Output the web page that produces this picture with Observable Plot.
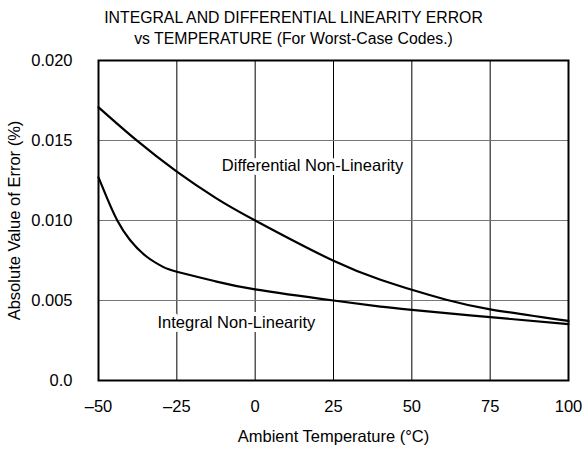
<!DOCTYPE html>
<html>
<head>
<meta charset="utf-8">
<script src="https://cdn.jsdelivr.net/npm/d3@7"></script>
<script src="https://cdn.jsdelivr.net/npm/@observablehq/plot@0.6"></script>
<style>
  body { margin: 0; background: white; font-family: "Liberation Sans", Arial, sans-serif; }
  #title { width: 587px; height: 48px; box-sizing: border-box; padding-top: 7px; text-align: center; font-size: 15.8px; line-height: 21px; color: #000; }
</style>
</head>
<body>
<div id="title">INTEGRAL AND DIFFERENTIAL LINEARITY ERROR<br>vs TEMPERATURE (For Worst-Case Codes.)</div>
<div id="chart"></div>
<script>
const dnlTemp = [-50, -38, -25, -12.5, 0, 25, 40, 50, 61, 75, 100];
const dnlErr  = [0.01708, 0.01504, 0.01306, 0.01140, 0.0100, 0.00748, 0.0063, 0.00567, 0.00505, 0.00445, 0.00372];
const inlTemp = [-50, -47.4, -44, -40, -34.7, -29.4, -25, -12.7, 0, 25, 40, 50, 75, 100];
const inlErr  = [0.0127, 0.01146, 0.0100, 0.0088, 0.00775, 0.0071, 0.0068, 0.0062, 0.0057, 0.0050, 0.00462, 0.00442, 0.00396, 0.00352];
const xTicks = [-50, -25, 0, 25, 50, 75, 100];
const yTicks = [0, 0.005, 0.010, 0.015, 0.020];
const yTickLabels = ["0.0", "0.005", "0.010", "0.015", "0.020"];
const xGrid = [-25, 0, 25, 50, 75];
const yGrid = [0.005, 0.010, 0.015];
const curveLabels = [
  {t: 18.3, v: 0.01344, text: "Differential Non-Linearity"},
  {t: -6, v: 0.00362, text: "Integral Non-Linearity"}
];

const dnl = dnlTemp.map((t, i) => ({t, v: dnlErr[i]}));
const inl = inlTemp.map((t, i) => ({t, v: inlErr[i]}));

const chart = Plot.plot({
  width: 587,
  height: 401,
  marginLeft: 98,
  marginRight: 19,
  marginTop: 12,
  marginBottom: 69,
  style: {fontFamily: "'Liberation Sans', Arial, sans-serif", fontSize: "16.5px", color: "#000", background: "white"},
  x: {domain: [-50, 100], ticks: xTicks, tickSize: 0, tickPadding: 20,
      tickFormat: d => d < 0 ? "\u2013" + Math.abs(d) : String(d),
      label: "Ambient Temperature (°C)", labelAnchor: "center", labelArrow: "none", labelOffset: 61},
  y: {domain: [0, 0.02], ticks: yTicks, tickSize: 0, tickPadding: 26,
      tickFormat: d => yTickLabels[yTicks.findIndex(y => Math.abs(y - d) < 1e-9)],
      label: "Absolute Value of Error (%)", labelAnchor: "center", labelArrow: "none", labelOffset: 90},
  marks: [
    Plot.ruleX(xGrid, {stroke: "#000", strokeWidth: 1}),
    Plot.ruleY(yGrid, {stroke: "#777", strokeWidth: 1}),
    Plot.line(dnl, {x: "t", y: "v", curve: "natural", stroke: "#000", strokeWidth: 2.2}),
    Plot.line(inl, {x: "t", y: "v", curve: "natural", stroke: "#000", strokeWidth: 2.2}),
    Plot.text(curveLabels, {x: "t", y: "v", text: "text", fontSize: 16.5, fill: "#000", stroke: "white", strokeWidth: 8}),
    Plot.frame({stroke: "#000", strokeWidth: 2})
  ]
});
document.getElementById("chart").appendChild(chart);
</script>
</body>
</html>
